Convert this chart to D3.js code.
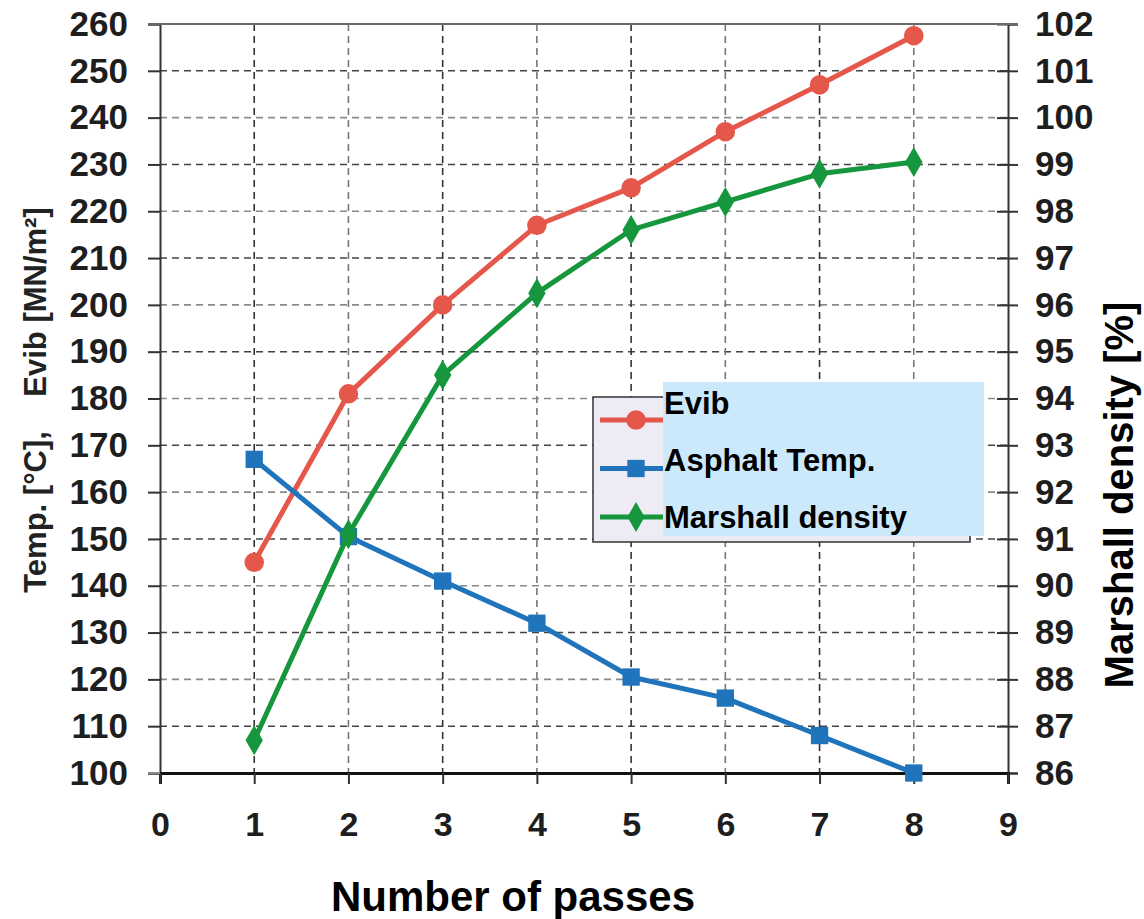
<!DOCTYPE html>
<html>
<head>
<meta charset="utf-8">
<script src="https://cdn.jsdelivr.net/npm/d3@7"></script>
<style>
  body { margin: 0; background: #fff; }
  svg text { font-family: Arial, "Liberation Sans", sans-serif; font-weight: bold; }
</style>
</head>
<body>
<div id="container"></div>
<script>
/* DATA */
const passes = [1, 2, 3, 4, 5, 6, 7, 8];
const evib = [145, 181, 200, 217, 225, 237, 247, 257.5];
const asphaltTemp = [167, 150.5, 141, 132, 120.5, 116, 108, 100];
const marshallDensity = [86.7, 91.1, 94.5, 96.25, 97.6, 98.2, 98.8, 99.05];
const leftTicks = d3.range(100, 261, 10);
const rightTicks = d3.range(86, 103, 1);
const xTicks = d3.range(0, 10, 1);
const legendLabels = ["Evib", "Asphalt Temp.", "Marshall density"];

/* CONSTANTS */
const width = 1144, height = 919;
const colors = { evib: "#e5574b", temp: "#1f74bb", dens: "#16963d" };

const svg = d3.select("#container")
  .append("svg")
  .attr("width", width)
  .attr("height", height);

/* SCALES */
const xScale = d3.scaleLinear().domain([0, 9]).range([160, 1008]);
const yLeft = d3.scaleLinear().domain([100, 260]).range([773, 24]);
const yRight = d3.scaleLinear().domain([86, 102]).range([773, 24]);

// grid lines
svg.append("g")
  .selectAll("line")
  .data(leftTicks.filter(d => d > 100 && d < 260))
  .join("line")
  .attr("x1", xScale(0))
  .attr("x2", xScale(9))
  .attr("y1", d => yLeft(d))
  .attr("y2", d => yLeft(d))
  .attr("stroke", (d, i) => i % 2 === 0 ? "#444" : "#8a8a8a")
  .attr("stroke-width", 1.6)
  .attr("stroke-dasharray", "7,5");

svg.append("g")
  .selectAll("line")
  .data(passes)
  .join("line")
  .attr("x1", d => xScale(d))
  .attr("x2", d => xScale(d))
  .attr("y1", yLeft(260))
  .attr("y2", yLeft(100))
  .attr("stroke", (d, i) => i % 2 === 0 ? "#333" : "#777")
  .attr("stroke-width", 1.6)
  .attr("stroke-dasharray", "7,5");

/* AXES */
const yAxisLeft = d3.axisLeft(yLeft).tickValues(leftTicks).tickSize(12).tickPadding(20);
const gl = svg.append("g").attr("transform", `translate(${xScale(0)},0)`).call(yAxisLeft);
gl.select(".domain").attr("stroke", "#333").attr("stroke-width", 2);
gl.selectAll(".tick line").attr("stroke", "#333").attr("stroke-width", 2);
gl.selectAll(".tick text")
  .attr("font-size", "35px")
  .attr("fill", "#1e1e1e");

const yAxisRight = d3.axisRight(yRight).tickValues(rightTicks).tickSize(10).tickPadding(17);
const gr = svg.append("g").attr("transform", `translate(${xScale(9)},0)`).call(yAxisRight);
gr.select(".domain").attr("stroke", "#333").attr("stroke-width", 2);
gr.selectAll(".tick line").attr("x1", -11).attr("stroke", "#333").attr("stroke-width", 2);
gr.selectAll(".tick text")
  .attr("font-size", "35px")
  .attr("fill", "#1e1e1e");

// top border
svg.append("line")
  .attr("x1", xScale(0) - 12)
  .attr("x2", xScale(9) + 10)
  .attr("y1", yLeft(260))
  .attr("y2", yLeft(260))
  .attr("stroke", "#6a6a6a")
  .attr("stroke-width", 2);

const xAxis = d3.axisBottom(xScale).tickValues(xTicks).tickSize(11).tickPadding(28).tickFormat(d3.format("d"));
const gx = svg.append("g").attr("transform", `translate(0,${yLeft(100)})`).call(xAxis);
gx.select(".domain").attr("stroke", "#111").attr("stroke-width", 3);
gx.selectAll(".tick line").attr("stroke", "#333").attr("stroke-width", 2);
gx.selectAll(".tick text")
  .attr("font-size", "34px")
  .attr("fill", "#1e1e1e");
svg.append("line")
  .attr("x1", xScale(0) - 12)
  .attr("x2", xScale(0))
  .attr("y1", yLeft(100))
  .attr("y2", yLeft(100))
  .attr("stroke", "#888")
  .attr("stroke-width", 2);

/* SERIES */
const line = d3.line();

function drawSeries(values, yScale, color, shape) {
  const pts = passes.map((p, i) => [xScale(p), yScale(values[i])]);
  svg.append("path")
    .attr("d", line(pts))
    .attr("fill", "none")
    .attr("stroke", color)
    .attr("stroke-width", 5)
    .attr("stroke-linejoin", "round");
  svg.append("g")
    .selectAll("path")
    .data(pts)
    .join("path")
    .attr("transform", d => `translate(${d[0]},${d[1]})`)
    .attr("d", d3.symbol().type(shape).size(shape === d3.symbolDiamond ? 260 : 300))
    .attr("fill", color);
}

drawSeries(evib, yLeft, colors.evib, d3.symbolCircle);
drawSeries(asphaltTemp, yLeft, colors.temp, d3.symbolSquare);
drawSeries(marshallDensity, yRight, colors.dens, d3.symbolDiamond);

/* LEGEND */
const legend = svg.append("g");
legend.append("rect")
  .attr("x", 593).attr("y", 397)
  .attr("width", 377).attr("height", 145)
  .attr("fill", "#eeebf5")
  .attr("stroke", "#333")
  .attr("stroke-width", 1.5);

const legendColors = [colors.evib, colors.temp, colors.dens];
const legendShapes = [d3.symbolCircle, d3.symbolSquare, d3.symbolDiamond];
legendLabels.forEach((lab, i) => {
  const y = 420 + i * 48.5;
  legend.append("line")
    .attr("x1", 600).attr("x2", 668)
    .attr("y1", y).attr("y2", y)
    .attr("stroke", legendColors[i])
    .attr("stroke-width", 5);
  legend.append("path")
    .attr("transform", `translate(636,${y})`)
    .attr("d", d3.symbol().type(legendShapes[i]).size(legendShapes[i] === d3.symbolDiamond ? 260 : 300))
    .attr("fill", legendColors[i]);
});

legend.append("rect")
  .attr("x", 663).attr("y", 382)
  .attr("width", 321).attr("height", 154)
  .attr("fill", "#cce9fb");

legendLabels.forEach((lab, i) => {
  legend.append("text")
    .attr("x", 664)
    .attr("y", 414 + i * 57)
    .attr("font-size", "31px")
    .attr("fill", "#000")
    .text(lab);
});

/* AXIS TITLES */
svg.append("text")
  .attr("transform", "translate(46,400) rotate(-90)")
  .attr("text-anchor", "middle")
  .attr("font-size", "31px")
  .attr("fill", "#222")
  .style("white-space", "pre")
  .text("Temp. [°C],    Evib [MN/m²]");

svg.append("text")
  .attr("transform", "translate(1133,495) rotate(-90)")
  .attr("text-anchor", "middle")
  .attr("font-size", "40px")
  .attr("fill", "#000")
  .text("Marshall density [%]");

svg.append("text")
  .attr("x", 513)
  .attr("y", 911)
  .attr("text-anchor", "middle")
  .attr("font-size", "42px")
  .attr("fill", "#000")
  .text("Number of passes");
</script>
</body>
</html>
